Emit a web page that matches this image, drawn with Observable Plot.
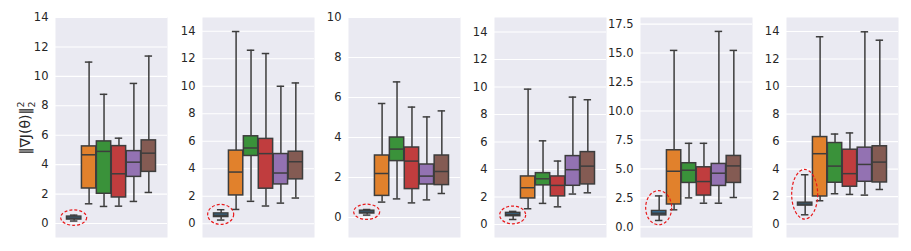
<!DOCTYPE html>
<html><head><meta charset="utf-8">
<script src="https://cdn.jsdelivr.net/npm/d3@7"></script>
<script src="https://cdn.jsdelivr.net/npm/@observablehq/plot@0.6"></script>
<style>
html,body{margin:0;padding:0;background:#fff;}
#chart{position:relative;width:911px;height:251px;overflow:hidden;font-family:"DejaVu Sans",sans-serif;}
#chart svg{position:absolute;top:0;}
</style></head><body><div id="chart"></div>
<script>
// series (hue levels) and their colours
const seriesNames = ["S1", "S2", "S3", "S4", "S5", "S6"];
const seriesColors = ["#3274a1", "#e1812c", "#3a923a", "#c03d3e", "#9372b2", "#845b53"];

// each row: [whisker low, Q1, median, Q3, whisker high]
const panel1 = [[0.17,0.27,0.37,0.47,0.57],[1.34,2.38,4.67,5.24,10.97],[1.16,2.02,4.90,5.58,8.78],[1.18,1.77,3.38,5.26,5.80],[1.50,3.17,4.17,4.92,9.52],[2.11,3.51,4.78,5.65,11.38]];
const panel2 = [[0.27,0.49,0.62,0.75,1.02],[1.04,2.06,3.76,5.32,13.98],[1.63,4.93,5.51,6.36,12.62],[1.29,2.55,5.10,6.17,12.38],[1.50,2.86,3.69,5.07,10.00],[1.87,3.23,4.51,5.24,10.24]];
const panel3 = [[0.12,0.20,0.27,0.34,0.40],[0.77,1.08,2.20,3.10,5.70],[0.93,2.82,3.42,4.00,6.78],[0.73,1.42,2.82,3.50,5.52],[0.88,1.65,2.07,2.65,5.03],[1.20,1.62,2.30,3.10,5.33]];
const panel4 = [[0.36,0.60,0.73,0.84,0.95],[1.14,1.89,2.67,3.49,9.84],[1.53,2.84,3.32,3.73,6.08],[1.28,2.04,2.84,3.49,4.61],[2.21,2.81,3.98,4.97,9.26],[2.30,2.91,4.24,5.26,9.07]];
const panel5 = [[0.55,0.99,1.18,1.37,2.67],[1.47,1.93,4.80,6.61,15.23],[2.50,3.79,4.89,5.49,7.21],[2.04,2.70,3.91,5.14,7.21],[2.04,3.53,4.63,5.43,16.87],[2.53,3.79,5.26,6.12,15.23]];
const panel6 = [[0.68,1.35,1.46,1.56,3.59],[1.70,2.01,5.12,6.33,13.62],[2.21,3.01,4.22,5.90,6.55],[2.16,2.72,3.67,5.41,6.63],[2.11,3.08,4.34,5.56,13.98],[2.52,3.03,4.51,5.66,13.37]];

const yDomain1 = [-0.95, 14.0], yDomain2 = [-1.0, 15.0], yDomain3 = [-1.0, 10.0];
const yDomain4 = [-0.95, 15.05], yDomain5 = [-0.92, 18.07], yDomain6 = [-0.97, 15.02];
const yTicks1 = [0,2,4,6,8,10,12,14];
const yTicks3 = [0,2,4,6,8,10];
const yTicks5 = [0,2.5,5,7.5,10,12.5,15,17.5];

const panels = [
  {stats: panel1, domain: yDomain1, ticks: yTicks1, fmt: d3.format("d")},
  {stats: panel2, domain: yDomain2, ticks: yTicks1, fmt: d3.format("d")},
  {stats: panel3, domain: yDomain3, ticks: yTicks3, fmt: d3.format("d")},
  {stats: panel4, domain: yDomain4, ticks: yTicks1, fmt: d3.format("d")},
  {stats: panel5, domain: yDomain5, ticks: yTicks5, fmt: d3.format(".1f")},
  {stats: panel6, domain: yDomain6, ticks: yTicks1, fmt: d3.format("d")}
];

const LINE = "#3d3d3d";
const PW = 112, MR = 2, MT = 17, MB = 14, H = 251;
const panelLefts = [55, 201.5, 348, 494, 640, 786];
const chart = document.getElementById("chart");

panels.forEach((p, k) => {
  const ML = k === 0 ? 55 : 42;
  const rows = p.stats.map((s, i) => ({series: seriesNames[i], pos: i, lo: s[0], q1: s[1], med: s[2], q3: s[3], hi: s[4]}));
  const lineStyle = {stroke: LINE, strokeWidth: 1.5};
  const plot = Plot.plot({
    width: ML + PW + MR, height: H,
    marginLeft: ML, marginRight: MR, marginTop: MT, marginBottom: MB,
    style: {background: "transparent", fontFamily: "DejaVu Sans", fontSize: "11.5px", color: "#262626", overflow: "visible"},
    x: {domain: [-1.25, 6.25], axis: null},
    y: {domain: p.domain, ticks: p.ticks, tickFormat: p.fmt, label: null, tickSize: 0, tickPadding: 7},
    color: {domain: seriesNames, range: seriesColors},
    marks: [
      Plot.frame({fill: "#eaeaf2", stroke: "none"}),
      Plot.ruleY(p.ticks, {stroke: "white", strokeWidth: 1.1}),
      Plot.ruleX(rows, {x: "pos", y1: "lo", y2: "q1", ...lineStyle}),
      Plot.ruleX(rows, {x: "pos", y1: "q3", y2: "hi", ...lineStyle}),
      Plot.ruleY(rows, {y: "lo", x1: d => d.pos - 0.25, x2: d => d.pos + 0.25, ...lineStyle}),
      Plot.ruleY(rows, {y: "hi", x1: d => d.pos - 0.25, x2: d => d.pos + 0.25, ...lineStyle}),
      Plot.rect(rows, {x1: d => d.pos - 0.48, x2: d => d.pos + 0.48, y1: "q1", y2: "q3", fill: "series", ...lineStyle}),
      Plot.ruleY(rows, {y: "med", x1: d => d.pos - 0.48, x2: d => d.pos + 0.48, ...lineStyle})
    ]
  });
  plot.style.left = (panelLefts[k] - ML) + "px";
  chart.appendChild(plot);

  // red dashed ellipse around the first (blue) box, placed with the plot's scales
  const sx = plot.scale("x"), sy = plot.scale("y");
  const first = rows[0];
  const cx = sx.apply(first.pos);
  const yLo = sy.apply(first.lo), yHi = sy.apply(first.hi);
  const ry = Math.abs(yLo - yHi) / 2 + 4.8;
  d3.select(plot).append("ellipse")
    .attr("cx", cx).attr("cy", (yLo + yHi) / 2)
    .attr("rx", 13).attr("ry", ry)
    .attr("fill", "none").attr("stroke", "#e8191b")
    .attr("stroke-width", 1.2).attr("stroke-dasharray", "3,2");

  if (k === 0) {
    const t = d3.select(plot).append("text")
      .attr("transform", "translate(30,128) rotate(-90)")
      .attr("text-anchor", "middle")
      .attr("fill", "#262626")
      .style("font-family", "DejaVu Sans").style("font-size", "14px");
    t.append("tspan").text("\u2016\u2207J(\u03b8)\u2016");
    t.append("tspan").attr("dy", -6).style("font-size", "9.5px").text("2");
    t.append("tspan").attr("dx", -6).attr("dy", 11).style("font-size", "9.5px").text("2");
  }
});
</script>
</body></html>
